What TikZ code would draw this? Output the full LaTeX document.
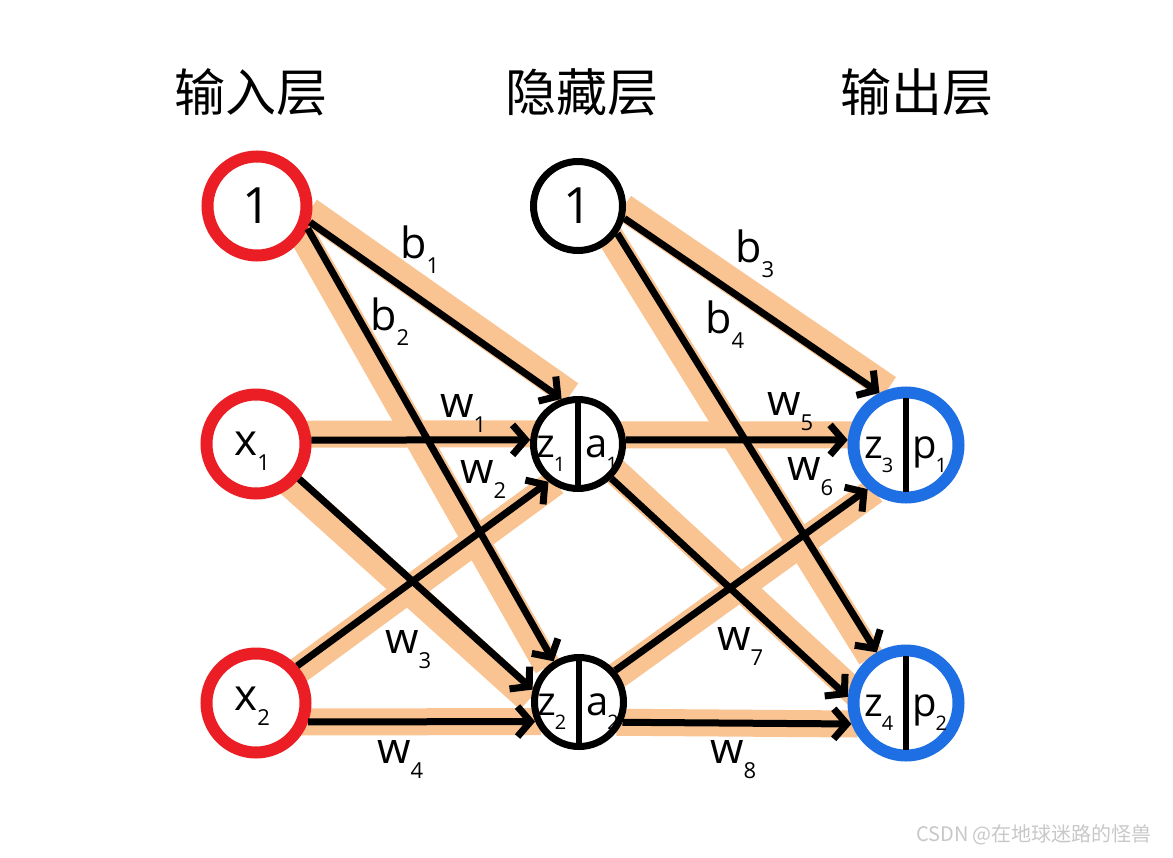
\documentclass[tikz,border=0pt]{standalone}
\usepackage{fontspec}
\setmainfont{Open Sans}
\newfontfamily\cjk{Noto Sans CJK SC}
\usetikzlibrary{arrows.meta}
\definecolor{hlc}{RGB}{249,196,146}
\definecolor{ringred}{RGB}{234,30,36}
\definecolor{ringblue}{RGB}{30,110,228}
\definecolor{wmgray}{RGB}{200,200,200}
\pgfdeclarelayer{bg}
\pgfdeclarelayer{paper}
\pgfsetlayers{paper,bg,main}
\newcommand{\lab}[2]{#1\raisebox{-15pt}{\fontsize{22}{22}\selectfont #2}}
\newcommand{\nlab}[2]{#1\kern-1pt\raisebox{-14pt}{\fontsize{20}{20}\selectfont #2}}
\newcommand{\link}[5]{%
  \begin{pgfonlayer}{bg}\draw[band] ([shift={#5}]#1.#2) -- ([shift={#5}]#3.#4);\end{pgfonlayer}
  \draw[conn] (#1.#2) -- (#3.#4);}
\tikzset{
  neuron/.style={circle, fill=white, inner sep=0pt, font=\fontsize{50}{50}\selectfont},
  innode/.style={neuron, draw=ringred, line width=12pt, minimum size=99pt},
  hidnode/.style={neuron, draw=black, line width=7pt, minimum size=89pt},
  outnode/.style={neuron, draw=ringblue, line width=12pt, minimum size=105pt},
  band/.style={draw=hlc, line width=27pt, shorten <=-6pt, shorten >=-6pt},
  conn/.style={draw=black, line width=7pt, -{Straight Barb[length=13pt,width=30pt]}},
  wlab/.style={font=\fontsize{43}{43}\selectfont, inner sep=0pt, anchor=base west},
  inlab/.style={font=\fontsize{40}{40}\selectfont, inner sep=0pt, anchor=base west},
  nlabs/.style={font=\fontsize{44}{44}\selectfont, inner sep=0pt, anchor=base west},
  title/.style={font=\cjk\fontsize{51}{51}\selectfont, inner sep=0pt},
  divider/.style={line width=5.5pt},
}
\begin{document}
\begin{tikzpicture}[x=1pt,y=-1pt]
\begin{pgfonlayer}{paper}
\fill[white] (0,0) rectangle (1173,857);
\end{pgfonlayer}
\useasboundingbox (0,0) rectangle (1173,857);

% titles
\node[title] (t1) at (251,92) {输入层};
\node[title] (t2) at (582,92) {隐藏层};
\node[title] (t3) at (917,92) {输出层};

% nodes
\node[innode] (i0) at (257,206) {};
\node[innode] (i1) at (256,444) {};
\node[innode] (i2) at (256,703) {};
\node[hidnode] (h0) at (578,206) {};
\node[hidnode] (h1) at (578,444) {};
\node[hidnode] (h2) at (579,702) {};
\node[outnode] (o1) at (906,445) {};
\node[outnode] (o2) at (906,703) {};

% connections
\link{i0}{-17}{h1}{110}{(4,-8)}
\link{i0}{-24}{h2}{122}{(-9,0)}
\link{i1}{4}{h1}{175}{(0,-6)}
\link{i1}{-39}{h2}{165}{(-8,6)}
\link{i2}{42}{h1}{-128}{(2,4)}
\link{i2}{-20}{h2}{-156}{(0,0)}
\link{h0}{-15}{o1}{117}{(4,-8)}
\link{h0}{-35}{o2}{120}{(-9,0)}
\link{h1}{5}{o1}{175}{(0,-5)}
\link{h2}{41}{o1}{-131}{(2,5)}
\link{h1}{-46}{o2}{174}{(5,-6)}
\link{h2}{-25}{o2}{-159}{(0,0)}

% node texts
\node[font=\fontsize{50}{50}\selectfont, inner sep=0pt] (i0t) at (i0) {1};
\node[font=\fontsize{50}{50}\selectfont, inner sep=0pt] (h0t) at (h0) {1};
\node[nlabs] (i1t) at (234,455) {\lab{x}{1}};
\node[nlabs] (i2t) at (234,710) {\lab{x}{2}};

\draw[divider] (h1.center) ++(0,-45) -- ++(0,90);
\draw[divider] (h2.center) ++(0,-45) -- ++(0,90);
\draw[divider] (o1.center) ++(0,-47) -- ++(0,94);
\draw[divider] (o2.center) ++(0,-47) -- ++(0,94);
\node[inlab] (h1z) at (536,457) {\nlab{z}{1}};
\node[inlab] (h1a) at (585,457) {\nlab{a}{1}};
\node[inlab] (h2z) at (537,715) {\nlab{z}{2}};
\node[inlab] (h2a) at (586,715) {\nlab{a}{2}};
\node[inlab] (o1z) at (864,458) {\nlab{z}{3}};
\node[inlab] (o1p) at (912,458) {\nlab{p}{1}};
\node[inlab] (o2z) at (864,716) {\nlab{z}{4}};
\node[inlab] (o2p) at (912,716) {\nlab{p}{2}};

% edge labels
\node[wlab] (lb1) at (400,258) {\lab{b}{1}};
\node[wlab] (lb2) at (370,330) {\lab{b}{2}};
\node[wlab] (lw1) at (440,417) {\lab{w}{1}};
\node[wlab] (lw2) at (460,483) {\lab{w}{2}};
\node[wlab] (lw3) at (385,653) {\lab{w}{3}};
\node[wlab] (lw4) at (377,763) {\lab{w}{4}};
\node[wlab] (lb3) at (735,262) {\lab{b}{3}};
\node[wlab] (lb4) at (705,333) {\lab{b}{4}};
\node[wlab] (lw5) at (767,415) {\lab{w}{5}};
\node[wlab] (lw6) at (787,480) {\lab{w}{6}};
\node[wlab] (lw7) at (717,650) {\lab{w}{7}};
\node[wlab] (lw8) at (710,763) {\lab{w}{8}};

% watermark
\node[font=\cjk\fontsize{20}{20}\selectfont, text=wmgray, inner sep=0pt] (wm) at (1034,835) {CSDN @在地球迷路的怪兽};
\end{tikzpicture}
\end{document}
